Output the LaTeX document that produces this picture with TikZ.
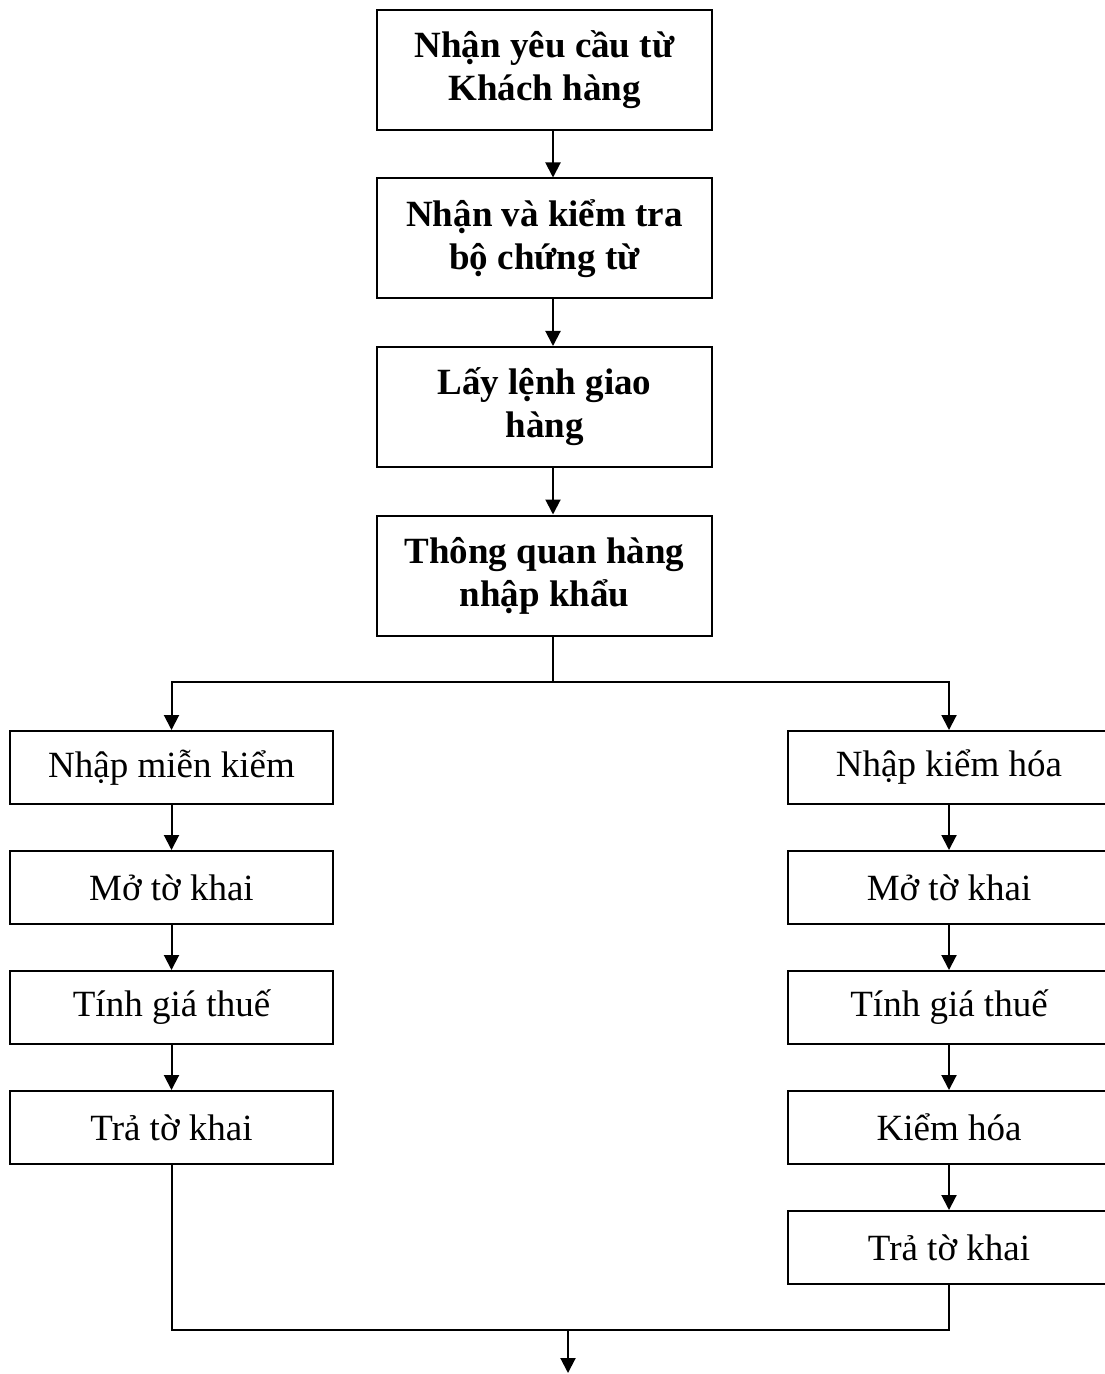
\documentclass[tikz,border=0pt]{standalone}
\usepackage{fontspec}
\setmainfont{Liberation Serif}
\usepackage{tikz}
\usetikzlibrary{positioning,arrows.meta}

\begin{document}
\begin{tikzpicture}[
    x=0.5pt, y=-0.5pt,
    font=\fontsize{18.5pt}{21.5pt}\selectfont,
    mainbox/.style={draw, line width=1pt, align=center,
                    font=\fontsize{18.5pt}{21.5pt}\selectfont\bfseries,
                    minimum width=167.5pt, minimum height=60pt, inner sep=0pt},
    subbox/.style ={draw, line width=1pt, align=center,
                    minimum width=161.5pt, minimum height=36.5pt, inner sep=0pt},
    arrow/.style  ={-{Triangle[length=7.5pt,width=7.5pt]}, line width=1pt},
    line/.style   ={line width=1pt}
]
\useasboundingbox (0,0) rectangle (1104,1374);

% --- top: main steps ---
\node[mainbox, anchor=north] (req) at (544.5,9) {Nhận yêu cầu từ\\Khách hàng};
\node[mainbox, below=23.25pt of req] (docs) {Nhận và kiểm tra\\bộ chứng từ};
\node[mainbox, below=23.25pt of docs] (order) {Lấy lệnh giao\\hàng};
\node[mainbox, below=23.25pt of order] (clear) {Thông quan hàng\\nhập khẩu};

% --- left branch: exempt from inspection ---
\node[subbox, anchor=north] (lfree) at (171.5,730) {Nhập miễn kiểm};
\node[subbox, below=22.5pt of lfree] (lopen) {Mở tờ khai};
\node[subbox, below=22.5pt of lopen] (ltax) {Tính giá thuế};
\node[subbox, below=22.5pt of ltax] (lret) {Trả tờ khai};

% --- right branch: physical inspection ---
\node[subbox, anchor=north] (rcheck) at (949,730) {Nhập kiểm hóa};
\node[subbox, below=22.5pt of rcheck] (ropen) {Mở tờ khai};
\node[subbox, below=22.5pt of ropen] (rtax) {Tính giá thuế};
\node[subbox, below=22.5pt of rtax] (rinsp) {Kiểm hóa};
\node[subbox, below=22.5pt of rinsp] (rret) {Trả tờ khai};

% --- join points ---
\coordinate (split) at (553,682);
\coordinate (merge) at (568,1330);
\coordinate (out) at (568,1373);

% --- arrows down ---
\draw[arrow] ([xshift=4.25pt]req.south)   -- ([xshift=4.25pt]docs.north);
\draw[arrow] ([xshift=4.25pt]docs.south)  -- ([xshift=4.25pt]order.north);
\draw[arrow] ([xshift=4.25pt]order.south) -- ([xshift=4.25pt]clear.north);
\draw[line]  ([xshift=4.25pt]clear.south) -- (split);
\draw[arrow] (split) -| (lfree.north);
\draw[arrow] (split) -| (rcheck.north);

\draw[arrow] (lfree) -- (lopen);
\draw[arrow] (lopen) -- (ltax);
\draw[arrow] (ltax)  -- (lret);

\draw[arrow] (rcheck) -- (ropen);
\draw[arrow] (ropen)  -- (rtax);
\draw[arrow] (rtax)   -- (rinsp);
\draw[arrow] (rinsp)  -- (rret);

% --- merge at the bottom ---
\draw[line]  (lret.south) |- (merge);
\draw[line]  (rret.south) |- (merge);
\draw[arrow] (merge) -- (out);

\end{tikzpicture}
\end{document}
